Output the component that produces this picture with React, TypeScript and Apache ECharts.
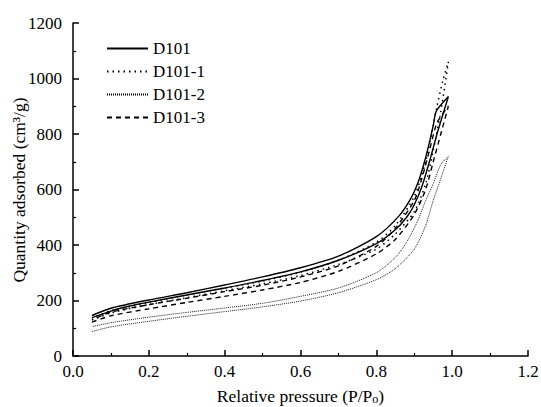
import React, { useEffect, useRef } from "react";
import * as echarts from "echarts";

const seriesNames = ["D101", "D101-1", "D101-2", "D101-3"];
const yAxisTitle = "Quantity adsorbed (cm³/g)";

// Each isotherm: adsorption branch (rising) followed by desorption branch (falling)
const d101: number[][] = [
  [0.05, 138], [0.1, 162], [0.15, 180], [0.2, 194], [0.3, 220], [0.4, 245], [0.5, 272],
  [0.6, 303], [0.7, 345], [0.8, 405], [0.85, 455], [0.88, 500], [0.9, 545], [0.92, 610],
  [0.94, 700], [0.96, 800], [0.98, 890], [0.99, 935],
  [0.958, 882], [0.95, 830], [0.94, 770], [0.925, 690], [0.91, 625], [0.89, 565], [0.86, 505],
  [0.8, 430], [0.7, 360], [0.6, 318], [0.5, 285], [0.4, 256], [0.3, 228], [0.2, 202],
  [0.1, 172], [0.05, 146],
];
const d101_1: number[][] = [
  [0.05, 130], [0.1, 155], [0.2, 185], [0.3, 210], [0.4, 235], [0.5, 260], [0.6, 290],
  [0.7, 330], [0.8, 385], [0.85, 440], [0.9, 520], [0.93, 620], [0.95, 740], [0.97, 880],
  [0.99, 1060],
  [0.975, 990], [0.96, 900], [0.95, 830], [0.93, 700], [0.9, 575], [0.85, 470],
  [0.8, 410], [0.7, 345], [0.6, 302], [0.5, 270], [0.4, 245], [0.3, 220], [0.2, 193],
  [0.1, 163], [0.05, 137],
];
const d101_2: number[][] = [
  [0.05, 88], [0.1, 105], [0.2, 125], [0.3, 143], [0.4, 160], [0.5, 177], [0.6, 198],
  [0.7, 228], [0.8, 275], [0.85, 315], [0.9, 385], [0.93, 470], [0.95, 560], [0.97, 640],
  [0.99, 720],
  [0.97, 690], [0.95, 620], [0.93, 560], [0.91, 490], [0.88, 410], [0.85, 355],
  [0.8, 300], [0.7, 245], [0.6, 215], [0.5, 190], [0.4, 173], [0.3, 157], [0.2, 140],
  [0.1, 120], [0.05, 106],
];
const d101_3: number[][] = [
  [0.05, 122], [0.1, 145], [0.2, 170], [0.3, 193], [0.4, 215], [0.5, 238], [0.6, 265],
  [0.7, 305], [0.8, 368], [0.85, 420], [0.9, 510], [0.93, 600], [0.95, 700], [0.97, 800],
  [0.99, 900],
  [0.96, 840], [0.94, 740], [0.92, 640], [0.9, 560], [0.85, 460], [0.8, 395],
  [0.7, 325], [0.6, 285], [0.5, 255], [0.4, 232], [0.3, 208], [0.2, 185], [0.1, 158],
  [0.05, 130],
];

const FONT = "Liberation Serif, Times New Roman, serif";

export default function App() {
  const ref = useRef<HTMLDivElement>(null);
  useEffect(() => {
    document.body.style.margin = "0";
    if (!ref.current) return;
    const chart = echarts.init(ref.current, undefined, { renderer: "svg" });
    const mk = (name: string, data: number[][], type: any, width: number) => ({
      name,
      type: "line",
      data,
      showSymbol: false,
      symbol: "none",
      smooth: 0.25,
      lineStyle: { color: "#000", width, type },
      itemStyle: { color: "#000" },
    });
    chart.setOption({
      animation: false,
      backgroundColor: "#fff",
      textStyle: { fontFamily: FONT },
      grid: { left: 73, right: 13, top: 23, bottom: 51, containLabel: false, outerBoundsMode: "none" },
      graphic: [
        {
          type: "text",
          x: 19,
          y: 190,
          rotation: Math.PI / 2,
          style: {
            text: yAxisTitle,
            fill: "#000",
            font: "17.5px Liberation Serif, Times New Roman, serif",
            textAlign: "center",
            textVerticalAlign: "middle",
          },
        },
      ],
      legend: {
        orient: "vertical",
        left: 101,
        top: 35,
        itemWidth: 41,
        itemHeight: 10,
        itemGap: 6,
        itemStyle: { opacity: 0 },
        textStyle: { fontFamily: FONT, fontSize: 17, color: "#000" },
        data: seriesNames,
      },
      xAxis: {
        type: "value",
        min: 0,
        max: 1.2,
        interval: 0.2,
        name: "{a|Relative pressure (P/P}{s|o}{a|)}",
        nameLocation: "middle",
        nameGap: 31,
        nameTextStyle: {
          rich: {
            a: { fontFamily: FONT, fontSize: 17.5, color: "#000" },
            s: { fontFamily: FONT, fontSize: 12, color: "#000", padding: [6, 0, 0, 0] },
          },
        },
        axisLine: { lineStyle: { color: "#000", width: 1.5 } },
        axisTick: { inside: true, length: 6, lineStyle: { color: "#000", width: 1.5 } },
        minorTick: { show: true, splitNumber: 2, length: 3, lineStyle: { color: "#000", width: 1.2 } },
        splitLine: { show: false },
        axisLabel: {
          fontFamily: FONT,
          fontSize: 17,
          color: "#000",
          margin: 7,
          showMaxLabel: true,
          formatter: (v: number) => v.toFixed(1),
        },
      },
      yAxis: {
        type: "value",
        min: 0,
        max: 1200,
        interval: 200,
        axisLine: { show: true, lineStyle: { color: "#000", width: 1.5 } },
        axisTick: { show: true, inside: true, length: 6, lineStyle: { color: "#000", width: 1.5 } },
        minorTick: { show: true, splitNumber: 2, length: 3, lineStyle: { color: "#000", width: 1.2 } },
        splitLine: { show: false },
        axisLabel: {
          fontFamily: FONT,
          fontSize: 17,
          color: "#000",
          margin: 11,
          formatter: (v: number) => String(v),
        },
      },
      series: [
        mk("D101", d101, "solid", 1.4),
        mk("D101-1", d101_1, [1.5, 4], 1.5),
        mk("D101-2", d101_2, [1, 1], 0.9),
        mk("D101-3", d101_3, [5, 4], 1.4),
      ],
    });
    return () => chart.dispose();
  }, []);
  return <div ref={ref} style={{ width: 541, height: 407 }} />;
}
